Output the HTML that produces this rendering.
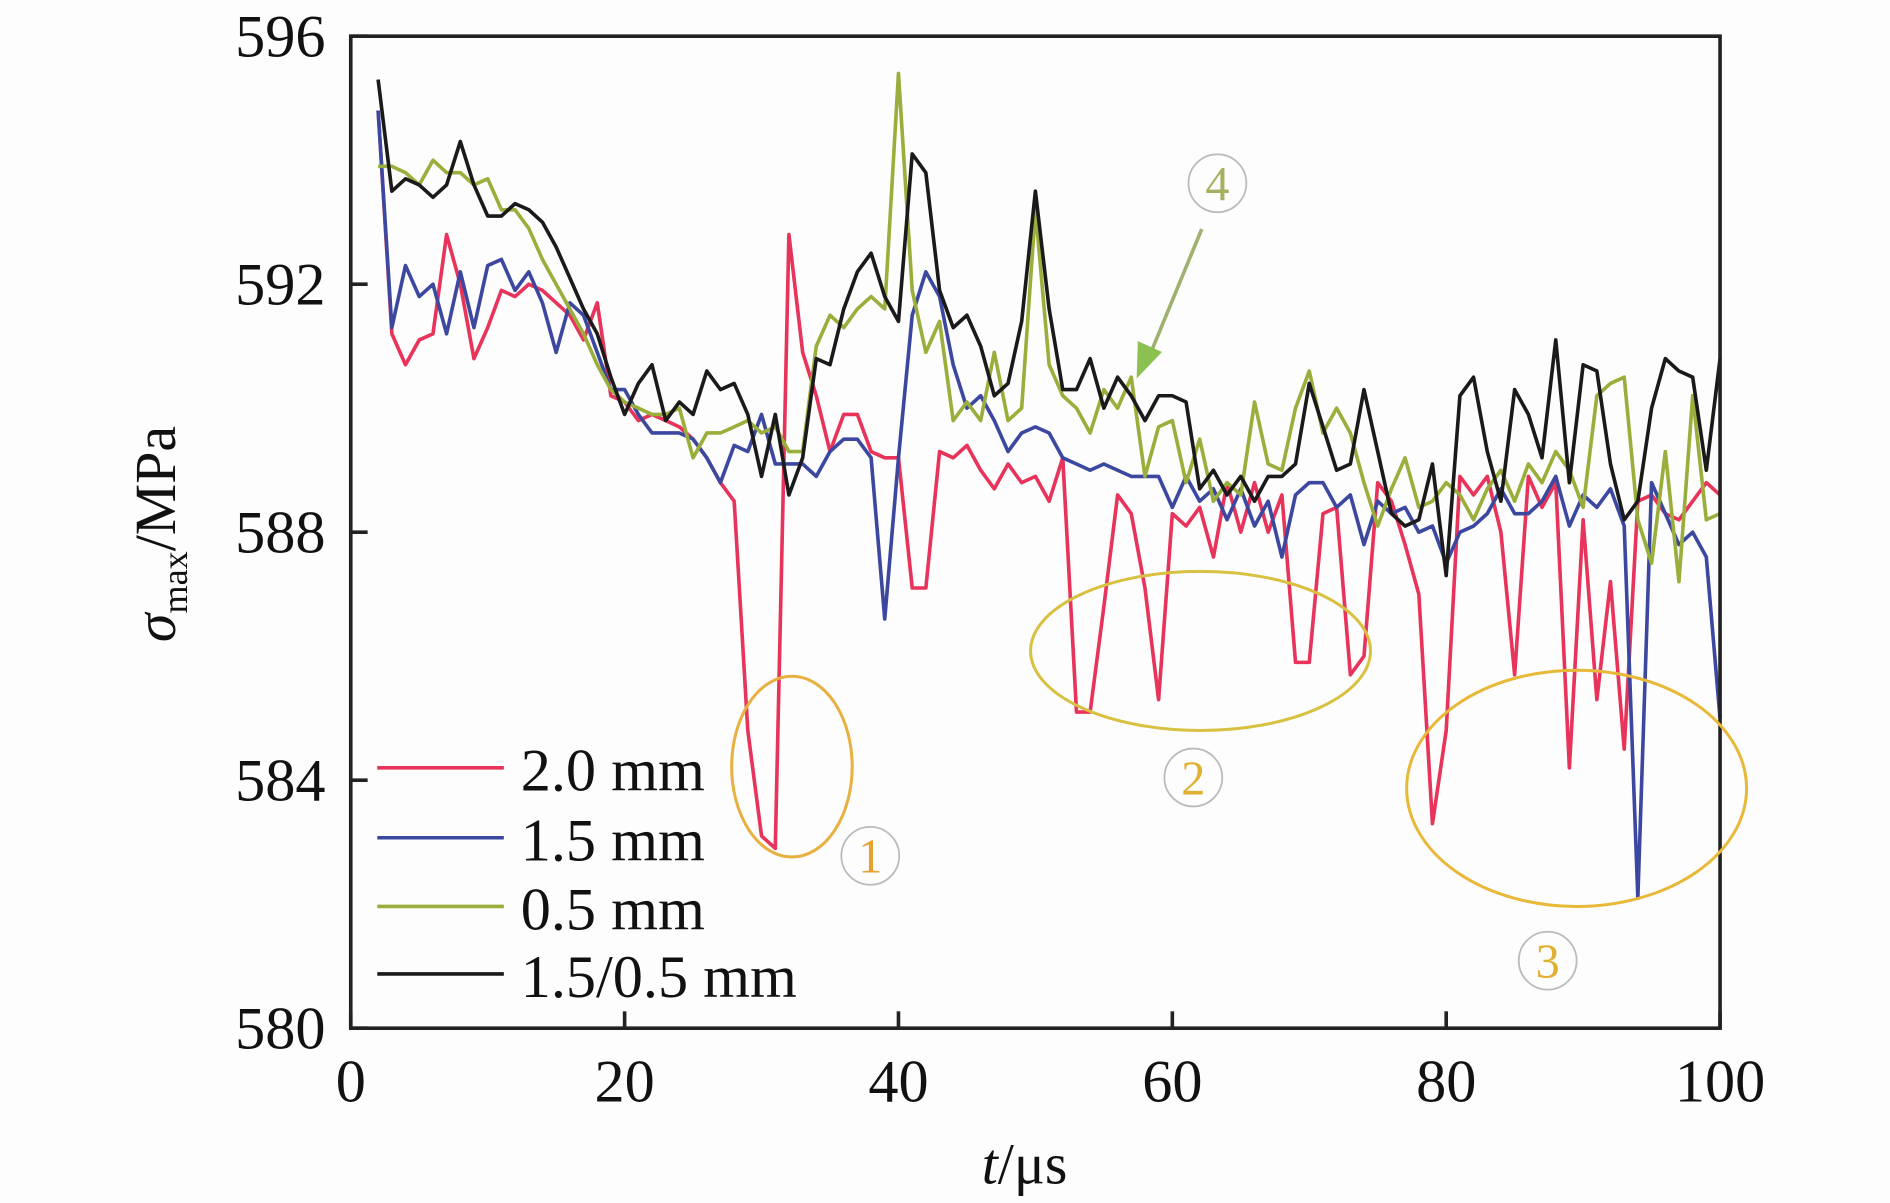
<!DOCTYPE html>
<html><head><meta charset="utf-8"><style>
html,body{margin:0;padding:0;background:#fff;}
svg{display:block;}
svg text{font-family:"Liberation Serif","Times New Roman",Times,serif;}
</style></head><body>
<svg width="1890" height="1203" viewBox="0 0 1568 998" xmlns="http://www.w3.org/2000/svg" font-family="Liberation Serif, Times New Roman, serif">
<rect width="1568" height="998" fill="#fdfdfd"/>
<g id="plot"></g>
<g id="axes"></g>
<g fill="none" stroke-width="2.5">
  <ellipse cx="657" cy="636" rx="50" ry="75" stroke="#e8b040"/>
  <ellipse cx="996" cy="540" rx="141" ry="66" stroke="#d8c040"/>
  <ellipse cx="1308" cy="654" rx="141" ry="98" stroke="#e8b838"/>
  <circle cx="722" cy="710" r="24" stroke="#bbb" stroke-width="1.5"/>
  <circle cx="990" cy="645" r="24" stroke="#bbb" stroke-width="1.5"/>
  <circle cx="1284" cy="797" r="24" stroke="#bbb" stroke-width="1.5"/>
  <circle cx="1010" cy="152" r="24" stroke="#bbb" stroke-width="1.5"/>
  <line x1="997" y1="190" x2="955" y2="292" stroke="#9fb070" stroke-width="3"/>
  <polygon points="943,314 944,283 964,292" fill="#8cc050" stroke="none"/>
</g>
<g font-size="40" text-anchor="middle">
  <text x="722" y="724" fill="#e8a030">1</text>
  <text x="990" y="659" fill="#e0b030">2</text>
  <text x="1284" y="811" fill="#e0b030">3</text>
  <text x="1010" y="166" fill="#a8b060">4</text>
</g>
<g font-size="50" fill="#111">
  <line x1="313" y1="637" x2="418" y2="637" stroke="#e8335a" stroke-width="3"/>
  <text x="432" y="656">2.0 mm</text>
  <line x1="313" y1="695" x2="418" y2="695" stroke="#3c48a0" stroke-width="3"/>
  <text x="432" y="714">1.5 mm</text>
  <line x1="313" y1="752" x2="418" y2="752" stroke="#9aae3c" stroke-width="3"/>
  <text x="432" y="771">0.5 mm</text>
  <line x1="313" y1="808" x2="418" y2="808" stroke="#1a1a1a" stroke-width="3"/>
  <text x="432" y="827">1.5/0.5 mm</text>
</g>
<text x="850" y="982" font-size="48" text-anchor="middle" fill="#111"><tspan font-style="italic">t</tspan>/μs</text>
<text transform="translate(145,443) rotate(-90)" font-size="48" text-anchor="middle" fill="#111"><tspan font-style="italic">σ</tspan><tspan font-size="30" dy="10">max</tspan><tspan dy="-10">/MPa</tspan></text>
</svg>
<script>
const times = [];
for (let t = 2; t <= 100; t++) times.push(t);
const xTicks = [0, 20, 40, 60, 80, 100];
const yTicks = [580, 584, 588, 592, 596];
const s20 = [594.8,591.2,590.7,591.1,591.2,592.8,592.0,590.8,591.3,591.9,591.8,592.0,591.9,591.7,591.5,591.1,591.7,590.2,590.1,589.8,589.9,589.8,589.7,589.5,589.2,588.8,588.5,584.8,583.1,582.9,592.8,590.9,590.2,589.3,589.9,589.9,589.3,589.2,589.2,587.1,587.1,589.3,589.2,589.4,589.0,588.7,589.1,588.8,588.9,588.5,589.2,585.1,585.1,586.8,588.6,588.3,587.1,585.3,588.3,588.1,588.4,587.6,588.8,588.0,588.8,588.0,588.6,585.9,585.9,588.3,588.4,585.7,586.0,588.8,588.5,587.8,587.0,583.3,584.8,588.9,588.6,588.9,588.0,585.7,588.9,588.4,588.8,584.2,588.2,585.3,587.2,584.5,588.5,588.6,588.3,588.2,588.5,588.8,588.6];
const s15 = [594.8,591.3,592.3,591.8,592.0,591.2,592.2,591.3,592.3,592.4,591.9,592.2,591.7,590.9,591.7,591.5,590.9,590.3,590.3,589.9,589.6,589.6,589.6,589.5,589.2,588.8,589.4,589.3,589.9,589.1,589.1,589.1,588.9,589.3,589.5,589.5,589.2,586.6,589.2,591.5,592.2,591.8,590.7,590.0,590.2,589.8,589.3,589.6,589.7,589.6,589.2,589.1,589.0,589.1,589.0,588.9,588.9,588.9,588.4,588.9,588.5,588.7,588.2,588.7,588.1,588.5,587.6,588.6,588.8,588.8,588.4,588.6,587.8,588.5,588.3,588.4,588.0,588.1,587.5,588.0,588.1,588.3,588.7,588.3,588.3,588.5,588.9,588.1,588.6,588.4,588.7,588.1,582.1,588.8,588.3,587.8,588.0,587.6,585.0];
const s05 = [593.9,593.9,593.8,593.6,594.0,593.8,593.8,593.6,593.7,593.2,593.2,592.9,592.4,592.0,591.6,591.2,590.7,590.3,590.1,590.0,589.9,589.9,590.0,589.2,589.6,589.6,589.7,589.8,589.6,589.7,589.3,589.3,591.0,591.5,591.3,591.6,591.8,591.6,595.4,591.9,590.9,591.4,589.8,590.1,589.8,590.9,589.8,590.0,593.2,590.7,590.2,590.0,589.6,590.3,590.0,590.5,588.9,589.7,589.8,588.8,589.5,588.5,588.8,588.6,590.1,589.1,589.0,590.0,590.6,589.6,590.0,589.6,588.8,588.1,588.7,589.2,588.4,588.5,588.8,588.6,588.2,588.7,589.0,588.5,589.1,588.8,589.3,589.0,588.4,590.2,590.4,590.5,588.2,587.5,589.3,587.2,590.2,588.2,588.3];
const s1505 = [595.3,593.5,593.7,593.6,593.4,593.6,594.3,593.6,593.1,593.1,593.3,593.2,593.0,592.6,592.1,591.6,591.2,590.5,589.9,590.4,590.7,589.8,590.1,589.9,590.6,590.3,590.4,589.9,588.9,589.9,588.6,589.2,590.8,590.7,591.6,592.2,592.5,591.8,591.4,594.1,593.8,591.9,591.3,591.5,591.0,590.2,590.4,591.4,593.5,591.6,590.3,590.3,590.8,590.0,590.5,590.2,589.8,590.2,590.2,590.1,588.7,589.0,588.6,588.9,588.5,588.9,588.9,589.1,590.4,589.7,589.0,589.1,590.3,589.3,588.3,588.1,588.2,589.1,587.3,590.2,590.5,589.3,588.5,590.3,589.9,589.2,591.1,588.8,590.7,590.6,589.1,588.2,588.5,590.0,590.8,590.6,590.5,589.0,590.8];

const X0 = 291, X1 = 1427, Y0 = 853, Y1 = 30;
function xs(t){ return X0 + (t - 0) / 100 * (X1 - X0); }
function ys(v){ return Y0 - (v - 580) / 16 * (Y0 - Y1); }
const NS = 'http://www.w3.org/2000/svg';
const plot = document.getElementById('plot');
const axes = document.getElementById('axes');

function addSeries(vals, color, name){
  const p = document.createElementNS(NS, 'polyline');
  p.setAttribute('points', vals.map((v,i)=> xs(times[i]).toFixed(1)+','+ys(v).toFixed(1)).join(' '));
  p.setAttribute('fill','none');
  p.setAttribute('stroke', color);
  p.setAttribute('stroke-width','3');
  p.setAttribute('stroke-linejoin','round');
  
  
  plot.appendChild(p);
}
addSeries(s20, '#e8335a', 'series-2-0mm');
addSeries(s15, '#3c48a0', 'series-1-5mm');
addSeries(s05, '#9aae3c', 'series-0-5mm');
addSeries(s1505, '#1a1a1a', 'series-1-5-0-5mm');

const frame = document.createElementNS(NS, 'rect');
frame.setAttribute('x', X0); frame.setAttribute('y', Y1);
frame.setAttribute('width', X1 - X0); frame.setAttribute('height', Y0 - Y1);
frame.setAttribute('fill','none'); frame.setAttribute('stroke','#222'); frame.setAttribute('stroke-width','3');


axes.appendChild(frame);

xTicks.forEach(t=>{
  const l = document.createElementNS(NS,'line');
  l.setAttribute('x1', xs(t)); l.setAttribute('x2', xs(t));
  l.setAttribute('y1', Y0); l.setAttribute('y2', Y0 - 14);
  l.setAttribute('stroke','#222'); l.setAttribute('stroke-width','3');
  
  
  axes.appendChild(l);
  const tx = document.createElementNS(NS,'text');
  tx.setAttribute('x', xs(t)); tx.setAttribute('y', 914);
  tx.setAttribute('text-anchor','middle'); tx.setAttribute('font-size','50'); tx.setAttribute('fill','#111');
  tx.textContent = t;
  
  
  axes.appendChild(tx);
});
yTicks.forEach(v=>{
  const l = document.createElementNS(NS,'line');
  l.setAttribute('x1', X0); l.setAttribute('x2', X0 + 14);
  l.setAttribute('y1', ys(v)); l.setAttribute('y2', ys(v));
  l.setAttribute('stroke','#222'); l.setAttribute('stroke-width','3');
  
  
  axes.appendChild(l);
  const tx = document.createElementNS(NS,'text');
  tx.setAttribute('x', 270); tx.setAttribute('y', ys(v) + 17);
  tx.setAttribute('text-anchor','end'); tx.setAttribute('font-size','50'); tx.setAttribute('fill','#111');
  tx.textContent = v;
  
  
  axes.appendChild(tx);
});
</script>
</body></html>
